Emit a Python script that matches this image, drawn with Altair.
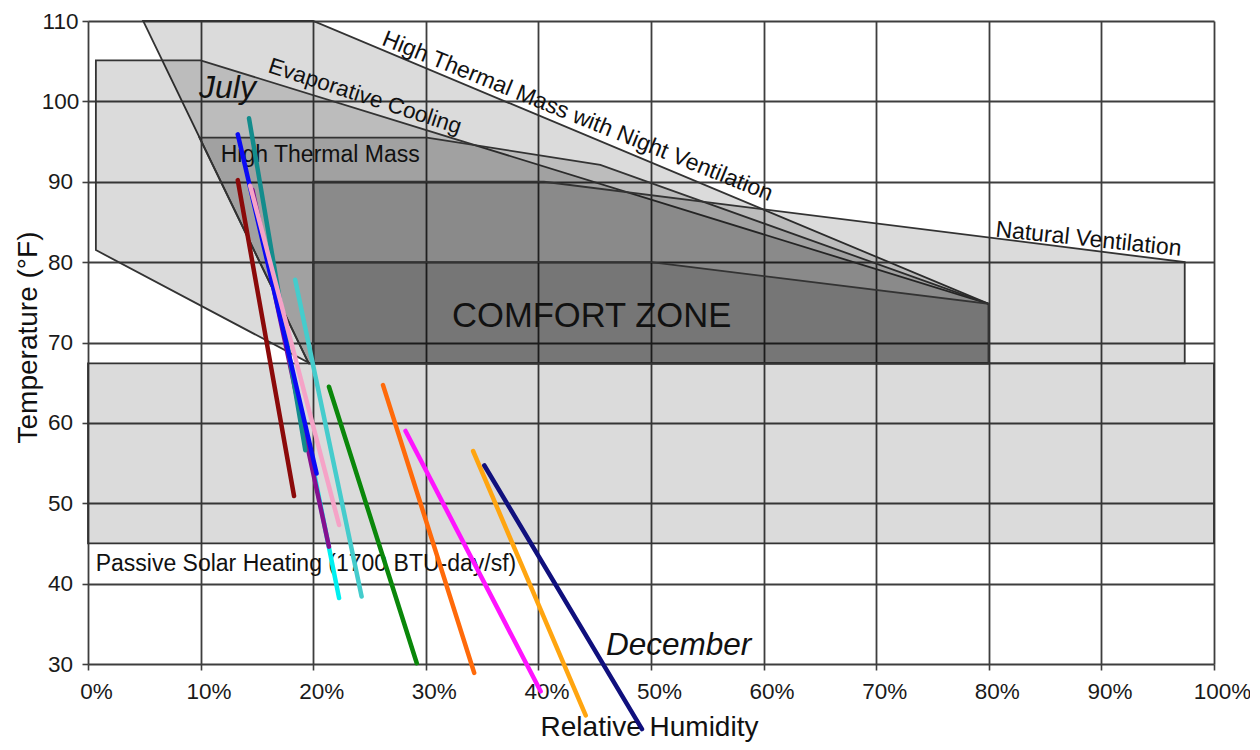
import altair as alt
import pandas as pd

# ---------------- data ----------------
# zone polygons: relative humidity (%) and temperature (°F)
zone_order = ["passive", "htm_nv", "evap", "htm", "nat_vent", "comfort"]
passive_rh = [0, 100, 100, 0]
passive_t = [45, 45, 67.4, 67.4]
htmnv_rh = [4.9, 20, 80, 80, 19.6]
htmnv_t = [110, 110, 74.8, 67.4, 67.4]
evap_rh = [0.7, 10, 80, 80, 19.7, 0.7]
evap_t = [105.1, 105.1, 74.8, 67.4, 67.4, 81.5]
htm_rh = [9.9, 30.1, 45.5, 80, 80, 19.6]
htm_t = [95.5, 95.5, 92.1, 74.8, 67.4, 67.4]
nv_rh = [20, 40.5, 97.4, 97.4, 20]
nv_t = [90, 90, 80, 67.4, 67.4]
comfort_rh = [20, 50, 80, 80, 20]
comfort_t = [80, 80, 74.8, 67.4, 67.4]

zones = {
    "passive": (passive_rh, passive_t),
    "htm_nv": (htmnv_rh, htmnv_t),
    "evap": (evap_rh, evap_t),
    "htm": (htm_rh, htm_t),
    "nat_vent": (nv_rh, nv_t),
    "comfort": (comfort_rh, comfort_t),
}

# monthly climate lines (start / end points), drawing order
line_names = ["cyan", "purple", "maroon", "teal", "blue", "pink", "turquoise",
              "green", "orangered", "magenta", "orange", "navy"]
line_colors = ["#00f0f0", "#85108f", "#8b0a0a", "#138c8c", "#0a0af5", "#f5a3c7", "#45cccc",
               "#0a870a", "#ff6a0a", "#ff14ff", "#ffa510", "#10107d"]
line_rh = [[19.9, 22.3], [14.6, 21.4], [13.3, 18.3], [14.3, 19.3], [13.3, 20.3], [14.4, 22.3],
           [18.4, 24.3], [21.4, 29.2], [26.2, 34.3], [28.2, 40.2], [34.2, 44.2], [35.2, 49.2]]
line_t = [[55.0, 38.2], [89.0, 44.6], [90.2, 50.9], [97.9, 56.6], [95.9, 53.7], [89.5, 47.3],
          [77.8, 38.4], [64.5, 30.1], [64.7, 28.9], [59.0, 26.6], [56.5, 23.6], [54.7, 21.9]]

# labels
label_text = ["July", "December", "High Thermal Mass", "Evaporative Cooling",
              "High Thermal Mass with Night Ventilation", "Natural Ventilation",
              "Passive Solar Heating (1700 BTU-day/sf)", "COMFORT ZONE"]
label_rh = [9.86, 46.0, 11.79, 15.9, 26.0, 80.55, 0.68, 32.33]
label_t = [100.39, 31.14, 92.5, 103.66, 107.08, 83.2, 41.59, 71.98]
label_angle = [0, 0, 0, 18, 22, 6, 0, 0]
label_size = [32, 31.5, 23, 22.5, 23, 23, 23, 34.6]
label_style = ["italic", "italic", "normal", "normal", "normal", "normal", "normal", "normal"]

x_ticks = list(range(0, 101, 10))
y_ticks = list(range(30, 111, 10))

FONT = "Liberation Sans"
GRID = "#3e3e3e"

x_scale = alt.Scale(domain=[0, 100], nice=False, zero=False)
y_scale = alt.Scale(domain=[30, 110], nice=False, zero=False)

x_axis = alt.Axis(values=x_ticks, labelExpr="datum.value + '%'", title="Relative Humidity",
                  grid=True, gridColor=GRID, gridWidth=1.8, gridOpacity=1,
                  ticks=True, tickColor=GRID, tickSize=6, tickWidth=1.6, domain=False,
                  labelFont=FONT, labelFontSize=22.5, labelColor="#1a1a1a", labelPadding=10,
                  labelOffset=8, labelFlush=False, labelOverlap=False,
                  titleFont=FONT, titleFontSize=28, titleFontWeight="normal", titleColor="#111111",
                  titleX=561, titleY=71, titleBaseline="alphabetic", titleAlign="center")
y_axis = alt.Axis(values=y_ticks, title="Temperature (°F)",
                  grid=True, gridColor=GRID, gridWidth=1.8, gridOpacity=1,
                  ticks=True, tickColor=GRID, tickSize=6, tickWidth=1.6, domain=False,
                  labelFont=FONT, labelFontSize=22.5, labelColor="#1a1a1a", labelPadding=22,
                  labelAlign="center", labelFlush=False, labelOverlap=False,
                  titleFont=FONT, titleFontSize=28, titleFontWeight="normal", titleColor="#111111",
                  titleAngle=270, titleX=-60, titleY=316, titleBaseline="middle", titleAlign="center")

X = alt.X("rh:Q", scale=x_scale, axis=x_axis)
Y = alt.Y("t:Q", scale=y_scale, axis=y_axis)

layers = []
for name in zone_order:
    rh, t = zones[name]
    df = pd.DataFrame({"rh": rh, "t": t, "i": list(range(len(rh)))})
    layers.append(
        alt.Chart(df).mark_line(fill="black", fillOpacity=0.142, stroke="#333333",
                                strokeWidth=1.8, interpolate="linear-closed", clip=False)
        .encode(x=X, y=Y, order=alt.Order("i:Q"))
    )

for txt, rh, t, ang, sz, sty in zip(label_text, label_rh, label_t, label_angle, label_size, label_style):
    df = pd.DataFrame({"rh": [rh], "t": [t], "label": [txt]})
    layers.append(
        alt.Chart(df).mark_text(align="left", baseline="alphabetic", angle=ang, fontSize=sz,
                                font=FONT, fontStyle=sty, color="#111111")
        .encode(x=X, y=Y, text="label:N")
    )

for name, col, rh, t in zip(line_names, line_colors, line_rh, line_t):
    df = pd.DataFrame({"rh": rh, "t": t, "i": list(range(len(rh)))})
    layers.append(
        alt.Chart(df).mark_line(color=col, strokeWidth=4.5, strokeCap="round", clip=False)
        .encode(x=X, y=Y, order=alt.Order("i:Q"))
    )

chart = alt.layer(*layers).properties(
    width=1126, height=643,
    autosize=alt.AutoSizeParams(type="none"),
    padding={"left": 80, "top": 13, "right": 36, "bottom": 78},
    background="white",
).configure_view(strokeWidth=0)

chart.save("out.html", embed_options={"renderer": "svg", "actions": False})
